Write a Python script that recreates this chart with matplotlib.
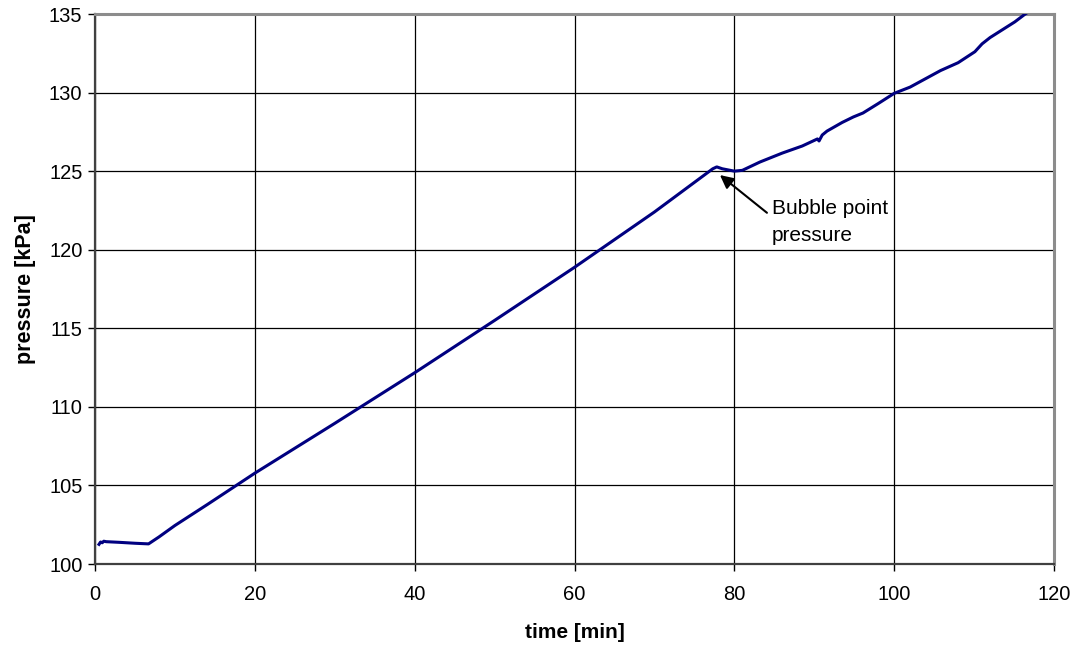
import matplotlib
matplotlib.use("Agg")
import matplotlib.pyplot as plt

plt.rcParams['font.family'] = ['Liberation Sans', 'DejaVu Sans']

time_min = [0.5, 0.7, 0.9, 1.1, 1.4, 3.0, 5.0, 6.7, 8.0, 10.0, 14.1, 20.0, 30.0, 40.0,
            50.0, 60.0, 70.0, 77.3, 77.8, 78.5, 80.0, 81.0, 83.2, 86.0, 88.5, 90.4,
            90.6, 91.0, 91.6, 93.5, 94.9, 96.1, 98.0, 100.0, 102.0, 105.8, 108.0,
            110.1, 111.0, 112.0, 115.1, 116.4, 117.0]
pressure_kpa = [101.25, 101.4, 101.35, 101.45, 101.42, 101.38, 101.32, 101.28, 101.72, 102.45,
                103.8, 105.78, 108.95, 112.17, 115.5, 118.88, 122.4, 125.15, 125.27, 125.15,
                125.0, 125.05, 125.58, 126.15, 126.6, 127.05, 126.92, 127.3, 127.55,
                128.1, 128.45, 128.7, 129.3, 129.95, 130.35, 131.4, 131.9, 132.6,
                133.1, 133.5, 134.5, 135.0, 135.2]

x_ticks = [0, 20, 40, 60, 80, 100, 120]
y_ticks = [100, 105, 110, 115, 120, 125, 130, 135]

fig = plt.figure(figsize=(10.8, 6.51), dpi=100)
ax = fig.add_axes([95/1080, 1 - 564/651, (1054 - 95)/1080, (564 - 14)/651])

ax.plot(time_min, pressure_kpa, color='#000080', lw=2.2, zorder=3)

ax.set_xlim(0, 120)
ax.set_ylim(100, 135)
ax.set_xticks(x_ticks)
ax.set_yticks(y_ticks)
ax.grid(True, color='black', lw=0.9)
ax.set_axisbelow(True)

for s in ['left', 'bottom']:
    ax.spines[s].set_color('#404040')
    ax.spines[s].set_linewidth(1.6)
for s in ['top', 'right']:
    ax.spines[s].set_color('#8c8c8c')
    ax.spines[s].set_linewidth(2.2)

ax.tick_params(axis='both', direction='out', length=5, width=1, color='black',
               labelsize=14.5)
ax.tick_params(axis='x', pad=10)
ax.tick_params(axis='y', pad=4)

ax.set_xlabel('time [min]', fontsize=15, fontweight='bold', labelpad=14)
ax.set_ylabel('pressure [kPa]', fontsize=15.5, fontweight='bold', labelpad=9)

ax.annotate('Bubble point\npressure', xy=(78.2, 124.75), xytext=(84.7, 121.75),
            fontsize=15, ha='left', va='center', linespacing=1.5,
            arrowprops=dict(arrowstyle='-|>', color='black', lw=1.5,
                            mutation_scale=20, shrinkA=2, shrinkB=0,
                            relpos=(0, 0.62)))

fig.savefig('out.png', dpi=100)
